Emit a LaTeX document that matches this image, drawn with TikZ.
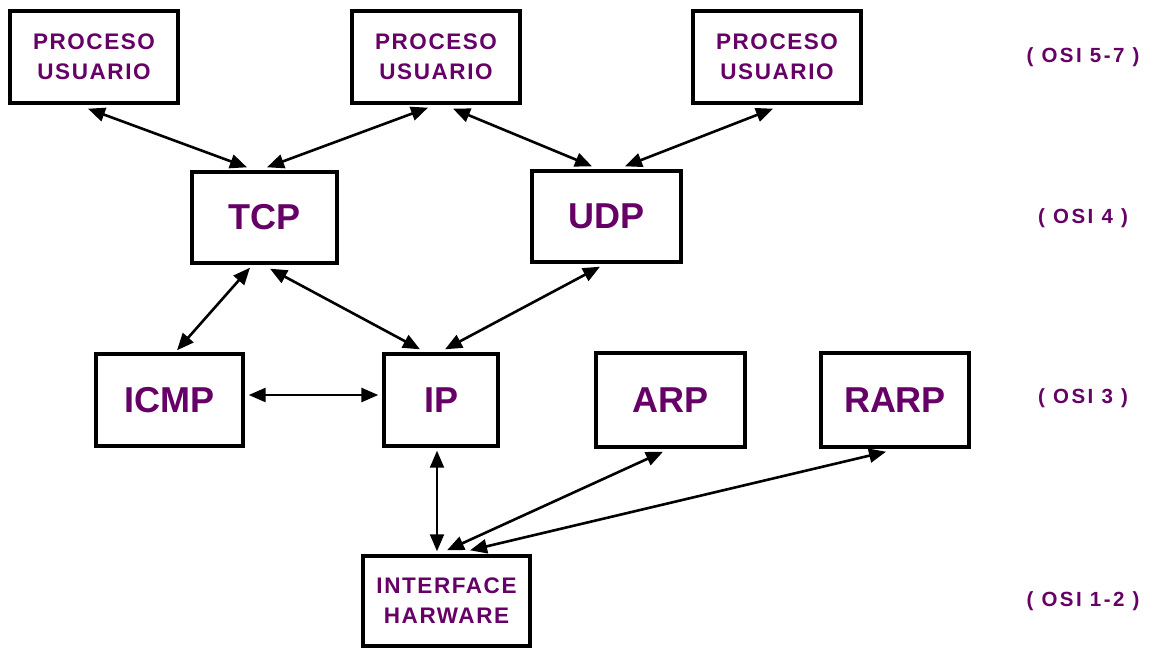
\documentclass[tikz,border=0pt]{standalone}
\usepackage{fontspec}
\setmainfont{Liberation Sans}
\newfontfamily\spacedfont[LetterSpace=7]{Liberation Sans}
\newfontfamily\osifont[LetterSpace=12]{Liberation Sans}
\usetikzlibrary{arrows.meta,calc}
\definecolor{txtpurple}{RGB}{102,0,102}
\begin{document}
\begin{tikzpicture}[x=1pt,y=-1pt,
  box/.style={draw=black,line width=3.4pt,fill=white,rectangle,inner sep=0pt,
    text=txtpurple,align=center},
  smallbox/.style={box,font=\spacedfont\bfseries\fontsize{22.5}{30}\selectfont},
  bigbox/.style={box,font=\bfseries\fontsize{36}{40}\selectfont},
  osilabel/.style={text=txtpurple,font=\osifont\bfseries\fontsize{20.5}{22}\selectfont,inner sep=0pt},
  link/.style={line width=2.6pt,{Triangle[length=17pt,width=14pt]}-{Triangle[length=17pt,width=14pt]}},
  thinlink/.style={line width=2pt,{Triangle[length=17pt,width=14pt]}-{Triangle[length=17pt,width=14pt]}}]
\useasboundingbox[fill=white] (0,0) rectangle (1155,648);

% Application layer
\node[smallbox,minimum width=168pt,minimum height=92pt] (pu1) at (94,57) {PROCESO\\USUARIO};
\node[smallbox,minimum width=168pt,minimum height=92pt] (pu2) at (436,57) {PROCESO\\USUARIO};
\node[smallbox,minimum width=168pt,minimum height=92pt] (pu3) at (777,57) {PROCESO\\USUARIO};

% Transport layer
\node[bigbox,minimum width=145pt,minimum height=91pt] (tcp) at (264.5,217.5) {TCP};
\node[bigbox,minimum width=149pt,minimum height=91pt] (udp) at (606.5,216.5) {UDP};

% Network layer
\node[bigbox,minimum width=147pt,minimum height=92pt] (icmp) at (169.5,400) {ICMP};
\node[bigbox,minimum width=114pt,minimum height=92pt] (ip) at (441,400) {IP};
\node[bigbox,minimum width=149pt,minimum height=94pt] (arp) at (670.5,400) {ARP};
\node[bigbox,minimum width=148pt,minimum height=94pt] (rarp) at (895,400) {RARP};

% Hardware
\node[smallbox,minimum width=167pt,minimum height=90pt] (hw) at (446.5,601) {INTERFACE\\HARWARE};

% OSI labels
\node[osilabel] (osi57) at (1083,57) {( OSI 5-7 )};
\node[osilabel] (osi4) at (1083,218) {( OSI 4 )};
\node[osilabel] (osi3) at (1083,398) {( OSI 3 )};
\node[osilabel] (osi12) at (1083,601) {( OSI 1-2 )};

% Connectors
\draw[link] ($(pu1.south)+(-6,4)$) -- ($(tcp.north)+(-17.5,-3)$);
\draw[link] ($(pu2.south)+(-8,3)$) -- ($(tcp.north)+(2.5,-3)$);
\draw[link] ($(pu2.south)+(17,4)$) -- ($(udp.north)+(-14.5,-3)$);
\draw[link] ($(pu3.south)+(-4,4)$) -- ($(udp.north)+(18.5,-3)$);
\draw[link] ($(tcp.south)+(-14.5,3)$) -- ($(icmp.north)+(7.5,-2)$);
\draw[link] ($(tcp.south)+(5.5,4)$) -- ($(ip.north)+(-21,-3)$);
\draw[link] ($(udp.south)+(-6.5,3)$) -- ($(ip.north)+(4,-3)$);
\draw[link] ($(icmp.east)+(4,-5)$) -- ($(ip.west)+(-4,-5)$);
\draw[thinlink] ($(ip.south)+(-4,3)$) -- ($(hw.north)+(-9.5,-3)$);
\draw[link] ($(arp.south)+(-7.5,3)$) -- ($(hw.north)+(0.5,-4)$);
\draw[link] ($(rarp.south)+(-9,3)$) -- ($(hw.north)+(23.5,-4)$);
\end{tikzpicture}
\end{document}
